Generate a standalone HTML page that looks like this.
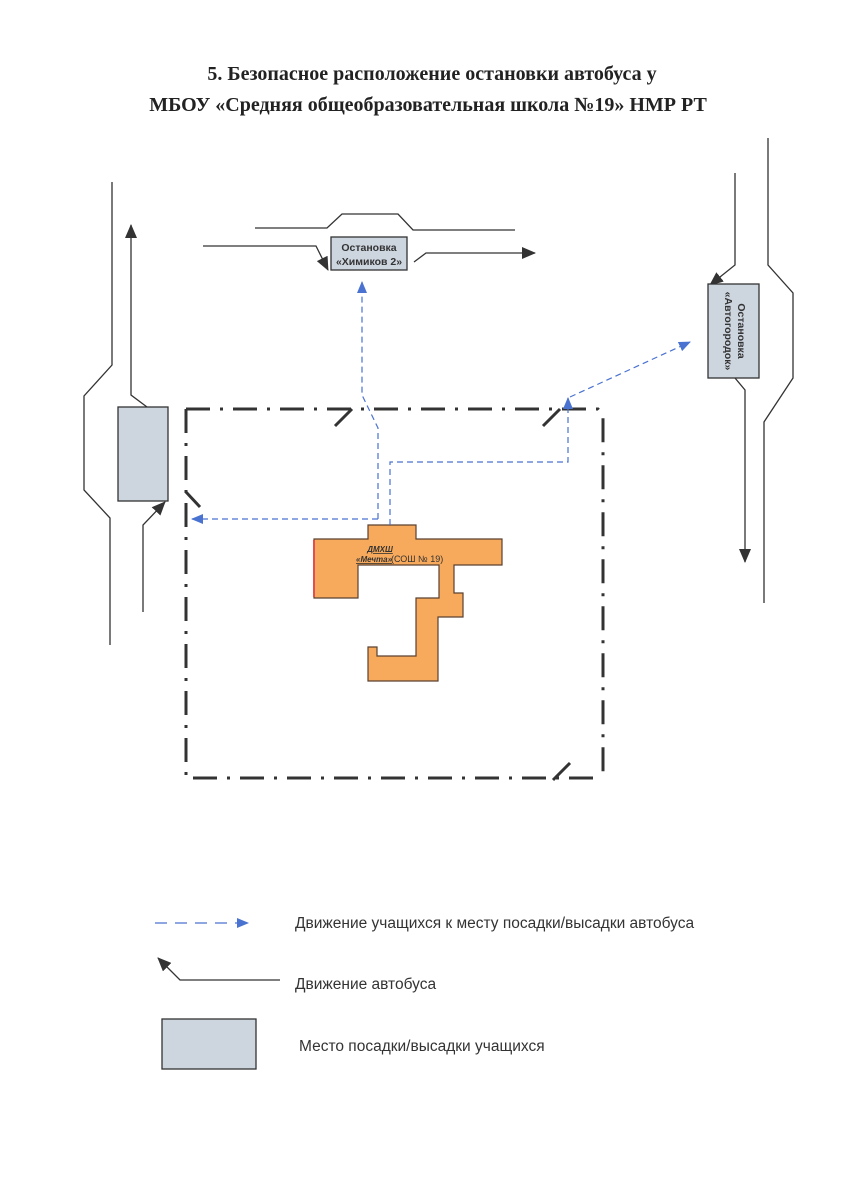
<!DOCTYPE html>
<html><head><meta charset="utf-8"><style>
body{margin:0;background:#fff;width:865px;height:1200px;overflow:hidden}
svg{display:block}
</style></head><body>
<svg width="865" height="1200" viewBox="0 0 865 1200" xmlns="http://www.w3.org/2000/svg" font-family="Liberation Sans, sans-serif">
<defs>
<marker id="ab2" markerWidth="14" markerHeight="12" refX="13" refY="6" orient="auto" markerUnits="userSpaceOnUse" viewBox="0 0 14 12"><path d="M0,0 L14,6 L0,12 z" fill="#333"/></marker>
<marker id="bl" markerWidth="12" markerHeight="10" refX="11" refY="5" orient="auto" markerUnits="userSpaceOnUse" viewBox="0 0 12 10"><path d="M0,0 L12,5 L0,10 z" fill="#4a72d0"/></marker>
</defs>
<g font-family="Liberation Serif, serif" font-weight="bold" font-size="20" fill="#222" text-anchor="middle">
<text x="432" y="80">5. Безопасное расположение остановки автобуса у</text>
<text x="428" y="111">МБОУ «Средняя общеобразовательная школа №19» НМР РТ</text>
</g>
<g fill="none" stroke="#333" stroke-width="1.3">
<path d="M112,182 V365 L84,396 V490 L110,518 V645"/>
<path d="M147,407 L131,395 V225" marker-end="url(#ab2)"/>
<path d="M143,612 V525 L165,502" marker-end="url(#ab2)"/>
<path d="M255,228 H327 L342,214 H398 L413,230 H515"/>
<path d="M203,246 H316 L328,270" marker-end="url(#ab2)"/>
<path d="M414,262 L426,253 H535" marker-end="url(#ab2)"/>
<path d="M768,138 V265 L793,293 V378 L764,422 V603"/>
<path d="M735,173 V265 L710,285" marker-end="url(#ab2)"/>
<path d="M735,378 L745,390 V562" marker-end="url(#ab2)"/>
</g>
<rect x="118" y="407" width="50" height="94" fill="#cdd5df" stroke="#333" stroke-width="1.3"/>
<rect x="331" y="237" width="76" height="33" fill="#cdd5df" stroke="#333" stroke-width="1.3"/>
<text x="369" y="251" font-size="10.5" font-weight="bold" fill="#333" text-anchor="middle">Остановка</text>
<text x="369" y="265" font-size="10.5" font-weight="bold" fill="#333" text-anchor="middle">«Химиков 2»</text>
<rect x="708" y="284" width="51" height="94" fill="#cdd5df" stroke="#333" stroke-width="1.3"/>
<g transform="translate(733,331) rotate(90)" font-size="10.5" font-weight="bold" fill="#333" text-anchor="middle">
<text x="0" y="-5">Остановка</text><text x="0" y="8">«Автогородок»</text></g>
<g fill="none" stroke="#333" stroke-width="3" stroke-dasharray="24,10,3,10">
<path d="M186,409 H598 L603,415 V778"/>
<path d="M186,409 V778 H600"/>
</g>
<g stroke="#333" stroke-width="3" fill="none">
<path d="M335,426 L352,409"/><path d="M543,426 L560,409"/>
<path d="M186,492 L200,507"/><path d="M553,780 L570,763"/>
</g>
<polygon points="368,525 416,525 416,539 502,539 502,565 454,565 454,593 463,593 463,617 438,617 438,681 368,681 368,647 377,647 377,656 416,656 416,598 439,598 439,565 358,565 358,598 314,598 314,539 368,539" fill="#f8aa5c" stroke="#5a4030" stroke-width="1.2"/>
<line x1="314" y1="540" x2="314" y2="597" stroke="#e05050" stroke-width="2"/>
<text x="380" y="552" font-size="8" font-weight="bold" font-style="italic" fill="#333" text-decoration="underline" text-anchor="middle">ДМХШ</text>
<text x="356" y="562" font-size="8" font-weight="bold" font-style="italic" fill="#333" text-decoration="underline">«Мечта»</text>
<text x="391" y="562" font-size="9" fill="#333">(СОШ № 19)</text>
<g fill="none" stroke="#4a72d0" stroke-width="1.2" stroke-dasharray="6,4">
<path d="M378,519 V428 L362,395 V282" marker-end="url(#bl)"/>
<path d="M378,519 H192" marker-end="url(#bl)"/>
<path d="M390,525 V462 H568 V398" marker-end="url(#bl)"/>
<path d="M570,397 L690,342" marker-end="url(#bl)"/>
<path d="M155,923 H248" stroke-dasharray="12,8" marker-end="url(#bl)"/>
</g>
<path d="M280,980 H180 L158,958" fill="none" stroke="#333" stroke-width="1.3" marker-end="url(#ab2)"/>
<rect x="162" y="1019" width="94" height="50" fill="#cdd5df" stroke="#333" stroke-width="1.3"/>
<g font-size="15.5" fill="#333">
<text x="295" y="928">Движение учащихся к месту посадки/высадки автобуса</text>
<text x="295" y="989">Движение автобуса</text>
<text x="299" y="1051">Место посадки/высадки учащихся</text>
</g>
</svg>
</body></html>
